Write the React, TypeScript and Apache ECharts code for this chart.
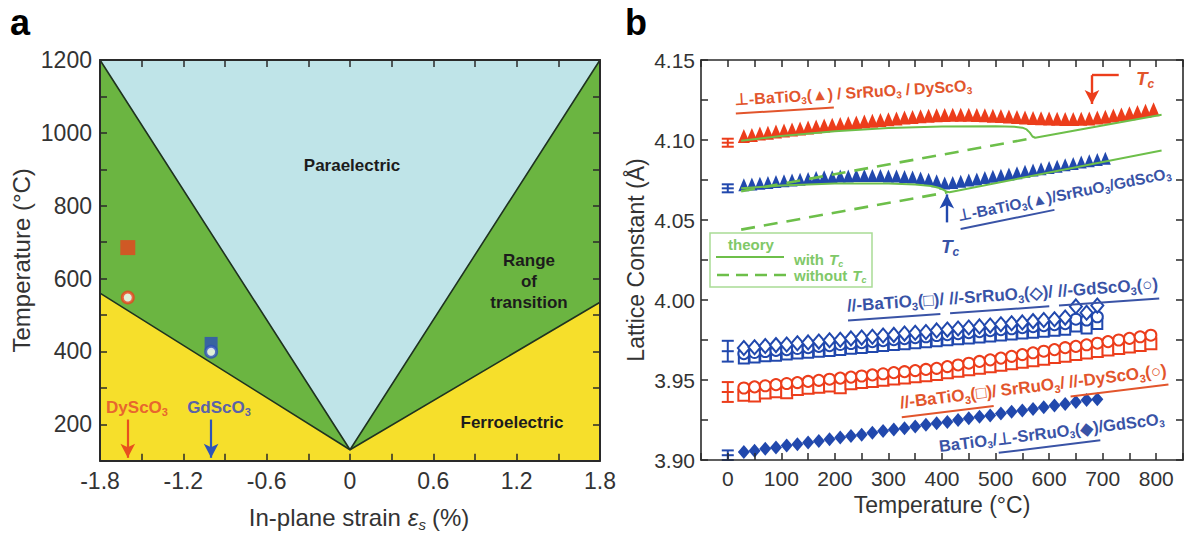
import React, { useEffect, useRef } from "react";
import * as echarts from "echarts";

const FONT = '"Liberation Sans", Arial, Helvetica, sans-serif';

// ================= Panel a : strain phase diagram =================
const strainMin = -1.8;
const strainMax = 1.8;
const tempMin = 100;
const tempMax = 1200;
const boundaryStrain = [-1.8, 0, 1.8];
const paraelectricBoundaryT = [1200, 130, 1200];
const ferroelectricBoundaryT = [560, 130, 535];
const dyStrain = -1.6;
const gdStrain = -1.0;
const dyMeasuredT = 685;
const dyTheoryT = 548;
const gdMeasuredT = 422;
const gdTheoryT = 399;
const substrateArrowTopT = 213;
const substrateArrowTipT = 108;

// ================= Panel b : lattice constant vs temperature =================
const redTriT = [30, 45, 60, 75, 90, 105, 120, 135, 150, 165, 180, 195, 210, 225, 240, 255, 270, 285, 300, 315, 330, 345, 360, 375, 390, 405, 420, 435, 450, 465, 480, 495, 510, 525, 540, 555, 570, 585, 600, 615, 630, 645, 660, 675, 690, 705, 720, 735, 750, 765, 780, 795];
const redTriV = [4.1025, 4.1032, 4.104, 4.1046, 4.1053, 4.106, 4.1066, 4.1072, 4.1078, 4.1084, 4.109, 4.1095, 4.11, 4.1105, 4.111, 4.1115, 4.112, 4.1125, 4.113, 4.1135, 4.114, 4.1144, 4.1148, 4.1152, 4.1155, 4.1157, 4.1158, 4.1158, 4.1158, 4.1157, 4.1155, 4.1152, 4.115, 4.1147, 4.1144, 4.1141, 4.1138, 4.1136, 4.1134, 4.1133, 4.1132, 4.1132, 4.1133, 4.1135, 4.114, 4.1146, 4.1153, 4.116, 4.1167, 4.1175, 4.1183, 4.1192];

const blueTriT = [30, 45, 60, 75, 90, 105, 120, 135, 150, 165, 180, 195, 210, 225, 240, 255, 270, 285, 300, 315, 330, 345, 360, 375, 390, 405, 420, 435, 450, 465, 480, 495, 510, 525, 540, 555, 570, 585, 600, 615, 630, 645, 660, 675, 690, 705];
const blueTriV = [4.072, 4.0725, 4.073, 4.0735, 4.074, 4.0745, 4.075, 4.0755, 4.076, 4.0765, 4.077, 4.077, 4.0775, 4.0775, 4.0778, 4.0778, 4.0778, 4.0778, 4.0775, 4.0775, 4.0772, 4.0768, 4.0762, 4.0755, 4.0745, 4.0732, 4.0735, 4.0742, 4.075, 4.0757, 4.0765, 4.0773, 4.078, 4.0788, 4.0796, 4.0804, 4.0812, 4.082, 4.0828, 4.0836, 4.0845, 4.0853, 4.0862, 4.087, 4.0878, 4.0886];

const redTheoryT = [25, 100, 200, 300, 400, 500, 535, 550, 558, 564, 569, 574, 810];
const redTheoryV = [4.0995, 4.1025, 4.1055, 4.1075, 4.1085, 4.1086, 4.1083, 4.1077, 4.1066, 4.1046, 4.1022, 4.1014, 4.1158];
const redNoTcT = [25, 572];
const redNoTcV = [4.068, 4.1013];
const blueTheoryT = [25, 100, 200, 300, 350, 380, 395, 403, 409, 414, 810];
const blueTheoryV = [4.0698, 4.0715, 4.0728, 4.0728, 4.0722, 4.0712, 4.07, 4.0688, 4.0676, 4.0674, 4.0935];
const blueNoTcT = [25, 410];
const blueNoTcV = [4.044, 4.0673];

const blueOpenT = [30, 50, 70, 90, 110, 130, 150, 170, 190, 210, 230, 250, 270, 290, 310, 330, 350, 370, 390, 410, 430, 450, 470, 490, 510, 530, 550, 570, 590, 610, 630, 650, 670, 690];
const blueDiamondOpenV = [3.97, 3.9705, 3.9712, 3.9718, 3.9722, 3.973, 3.9735, 3.974, 3.9748, 3.9752, 3.976, 3.9765, 3.977, 3.9778, 3.9782, 3.979, 3.9795, 3.98, 3.981, 3.9815, 3.9822, 3.9828, 3.9835, 3.984, 3.9848, 3.9855, 3.986, 3.9868, 3.9875, 3.988, 3.989, 3.996, 3.992, 3.9965];
const blueCircleOpenV = [3.9665, 3.9672, 3.9678, 3.9685, 3.969, 3.9697, 3.9702, 3.971, 3.9715, 3.9722, 3.9728, 3.9733, 3.974, 3.9746, 3.9752, 3.9758, 3.9765, 3.977, 3.9778, 3.9783, 3.979, 3.9796, 3.9802, 3.9808, 3.9815, 3.982, 3.9827, 3.9833, 3.984, 3.9846, 3.9852, 3.988, 3.9875, 3.9895];
const blueSquareOpenV = [3.9635, 3.964, 3.9648, 3.9652, 3.966, 3.9665, 3.967, 3.9676, 3.9682, 3.9688, 3.9695, 3.97, 3.9706, 3.9712, 3.9718, 3.9724, 3.973, 3.9736, 3.9742, 3.9748, 3.9754, 3.976, 3.9766, 3.9772, 3.9778, 3.9784, 3.979, 3.9796, 3.9802, 3.9808, 3.9814, 3.9835, 3.9822, 3.985];

const redOpenT = [30, 50, 70, 90, 110, 130, 150, 170, 190, 210, 230, 250, 270, 290, 310, 330, 350, 370, 390, 410, 430, 450, 470, 490, 510, 530, 550, 570, 590, 610, 630, 650, 670, 690, 710, 730, 750, 770, 790];
const redCircleOpenV = [3.945, 3.9457, 3.9464, 3.9471, 3.9478, 3.9484, 3.9491, 3.9498, 3.9505, 3.9512, 3.9518, 3.9525, 3.9532, 3.9539, 3.9546, 3.9552, 3.9559, 3.9566, 3.9573, 3.9584, 3.9594, 3.9605, 3.9616, 3.9626, 3.9637, 3.9648, 3.9659, 3.967, 3.968, 3.969, 3.9702, 3.971, 3.972, 3.973, 3.974, 3.975, 3.976, 3.977, 3.978];
const redSquareOpenV = [3.9405, 3.94, 3.9419, 3.9426, 3.942, 3.9441, 3.9448, 3.9455, 3.9462, 3.9452, 3.9477, 3.9484, 3.9491, 3.9498, 3.9506, 3.9513, 3.952, 3.9527, 3.9535, 3.9545, 3.9554, 3.9564, 3.9573, 3.9583, 3.9592, 3.9602, 3.9611, 3.962, 3.963, 3.964, 3.9649, 3.9659, 3.9668, 3.9678, 3.9688, 3.9697, 3.9707, 3.9716, 3.9726];

const blueDiamondT = [30, 50, 70, 90, 110, 130, 150, 170, 190, 210, 230, 250, 270, 290, 310, 330, 350, 370, 390, 410, 430, 450, 470, 490, 510, 530, 550, 570, 590, 610, 630, 650, 670, 690];
const blueDiamondV = [3.905, 3.9058, 3.907, 3.9078, 3.909, 3.9099, 3.911, 3.9118, 3.913, 3.9141, 3.915, 3.9158, 3.917, 3.9181, 3.919, 3.9198, 3.921, 3.9221, 3.923, 3.9238, 3.925, 3.9261, 3.927, 3.9278, 3.929, 3.9301, 3.931, 3.9318, 3.933, 3.9341, 3.935, 3.9362, 3.9375, 3.938];

const errT = [0, 0, 0, 0, 0];
const errCenter = [4.0983, 4.0698, 3.968, 3.9425, 3.903];
const errHalf = [0.0025, 0.0025, 0.0065, 0.0062, 0.003];

const tcRedT = 680;
const tcRedTopV = 4.1405;
const tcRedTipV = 4.1225;
const tcRedBracketEndT = 730;
const tcBlueT = 409;
const tcBlueTailV = 4.0485;
const tcBlueTipV = 4.066;

// ================= colours =================
const PARA = "#bfe4e8";
const RANGE = "#6bb541";
const FERRO = "#f6df2b";
const EDGE = "#1f3320";
const RED = "#ec3d1b";
const RED_TXT = "#e2552c";
const BLUE = "#2148ad";
const BLUE_TXT = "#3953a6";
const GREEN = "#6dbf4a";
const GREEN_TXT = "#80c868";
const AX = "#2a2a2a";
const errColors = [RED, BLUE, BLUE, RED, BLUE];
const TOP_Z = 100;

// ================= text helpers =================
let measureCtx: CanvasRenderingContext2D | null = null;
function textWidth(t: string, size: number, weight: string, style: string) {
  if (!measureCtx) measureCtx = document.createElement("canvas").getContext("2d");
  measureCtx!.font = `${style} ${weight} ${size}px ${FONT}`;
  return measureCtx!.measureText(t).width;
}

type Tok = { t?: string; gap?: number; sub?: boolean; it?: boolean; u?: number; w?: string };

function richLabel(
  tokens: Tok[],
  o: { x: number; y: number; rot?: number; size: number; color: string; weight?: string; center?: boolean; uOff?: number; uWidth?: number }
) {
  const weight = o.weight ?? "bold";
  let cx = 0;
  const items: any[] = [];
  const ul: Record<number, [number, number]> = {};
  for (const tk of tokens) {
    if (tk.gap !== undefined) {
      cx += tk.gap;
      continue;
    }
    const fs = tk.sub ? Math.round(o.size * 0.62) : o.size;
    const st = tk.it ? "italic" : "normal";
    const wt = tk.w ?? weight;
    const w = textWidth(tk.t!, fs, wt, st);
    items.push({
      type: "text",
      x: cx,
      y: tk.sub ? o.size * 0.3 : 0,
      z: TOP_Z,
      silent: true,
      style: {
        text: tk.t,
        fontSize: fs,
        fontWeight: wt,
        fontStyle: st,
        fontFamily: FONT,
        fill: o.color,
        align: "left",
        verticalAlign: "middle",
        textAlign: "left",
        textVerticalAlign: "middle",
      },
    });
    if (tk.u !== undefined) {
      const r = ul[tk.u];
      ul[tk.u] = r ? [r[0], cx + w] : [cx, cx + w];
    }
    cx += w;
  }
  const shift = o.center ? -cx / 2 : 0;
  items.forEach((it) => (it.x += shift));
  const uy = o.size * (o.uOff ?? 0.85);
  Object.keys(ul).forEach((k) => {
    const [a, b] = ul[Number(k)];
    items.push({
      type: "line",
      silent: true,
      z: TOP_Z,
      shape: { x1: a + shift, y1: uy, x2: b + shift, y2: uy },
      style: { stroke: o.color, lineWidth: o.uWidth ?? 2 },
    });
  });
  return { type: "group", x: o.x, y: o.y, z: TOP_Z, rotation: ((o.rot ?? 0) * Math.PI) / 180, silent: true, children: items };
}

function plainText(text: string, x: number, y: number, size: number, color: string, weight = "bold", align = "center") {
  return {
    type: "text",
    x,
    y,
    z: TOP_Z,
    silent: true,
    style: {
      text,
      fontSize: size,
      fontWeight: weight,
      fontFamily: FONT,
      fill: color,
      align,
      verticalAlign: "middle",
      textAlign: align,
      textVerticalAlign: "middle",
    },
  };
}

const zip = (xs: number[], ys: number[]) => xs.map((x, i) => [x, ys[i]]);

function polygonSeries(points: number[][], fill: string, z: number) {
  return {
    type: "custom",
    xAxisIndex: 0,
    yAxisIndex: 0,
    silent: true,
    clip: true,
    z,
    data: [[0, 500]],
    renderItem: (_p: any, api: any) => ({
      type: "polygon",
      shape: { points: points.map((p) => api.coord(p)) },
      style: { fill, stroke: "none" },
    }),
  };
}

function axis(extra: any) {
  return {
    type: "value",
    z: 10,
    axisLine: { show: true, onZero: false, lineStyle: { color: AX, width: 2 } },
    axisTick: { show: true, inside: true, length: 7, lineStyle: { color: AX, width: 1.5 } },
    splitLine: { show: false },
    ...extra,
  };
}

const tickLabelA = { fontSize: 23, color: "#333", fontFamily: FONT };
const tickLabelB = { fontSize: 21, color: "#333", fontFamily: FONT };
const nameStyle = { fontSize: 23, color: "#333", fontFamily: FONT };

function buildOption() {
  const arrowMark = (from: number[], to: number[]) => [
    { coord: from, symbol: "none" },
    { coord: to, symbol: "arrow", symbolSize: [11, 14] },
  ];
  const scatter = (xs: number[], ys: number[], symbol: string, size: any, fill: string, stroke?: string, z = 4) => ({
    type: "scatter",
    xAxisIndex: 2,
    yAxisIndex: 2,
    symbol,
    symbolSize: size,
    z,
    silent: true,
    itemStyle: stroke ? { color: fill, borderColor: stroke, borderWidth: 2, opacity: 1 } : { color: fill, opacity: 1 },
    data: zip(xs, ys),
  });
  const greenLine = (xs: number[], ys: number[], dashed: boolean) => ({
    type: "line",
    xAxisIndex: 2,
    yAxisIndex: 2,
    symbol: "none",
    silent: true,
    z: 6,
    lineStyle: { color: GREEN, width: dashed ? 2.6 : 2, type: dashed ? [14, 9] : "solid" },
    data: zip(xs, ys),
  });

  const corners = (ys: number[]) => [
    ...boundaryStrain.map((s, i) => [s, ys[i]]),
    [strainMax, tempMin],
    [strainMin, tempMin],
  ];

  return {
    animation: false,
    backgroundColor: "#ffffff",
    grid: [
      { left: 100, top: 60, width: 500, height: 400.7 },
      { left: 701, top: 60, width: 486, height: 400 },
    ],
    xAxis: [
      axis({
        gridIndex: 0,
        min: strainMin,
        max: strainMax,
        interval: 0.3,
        position: "bottom",
        axisLabel: {
          ...tickLabelA,
          margin: 9,
          formatter: (v: number) => (Math.round(v * 10) % 6 === 0 ? (Math.abs(v) < 1e-9 ? "0" : v.toFixed(1)) : ""),
        },
      }),
      axis({ gridIndex: 0, min: strainMin, max: strainMax, interval: 0.3, position: "top", axisLabel: { show: false } }),
      axis({
        gridIndex: 1,
        min: -50,
        max: 850,
        interval: 50,
        position: "bottom",
        axisLine: { show: true, onZero: false, lineStyle: { color: AX, width: 1.6 } },
        name: "Temperature (°C)",
        nameLocation: "middle",
        nameGap: 30,
        nameTextStyle: nameStyle,
        axisLabel: {
          ...tickLabelB,
          margin: 8,
          formatter: (v: number) => (Math.round(v) % 100 === 0 && v >= 0 ? String(Math.round(v)) : ""),
        },
      }),
      axis({
        gridIndex: 1,
        min: -50,
        max: 850,
        interval: 50,
        position: "top",
        axisLine: { show: true, onZero: false, lineStyle: { color: AX, width: 1.6 } },
        axisLabel: { show: false },
      }),
    ],
    yAxis: [
      axis({
        gridIndex: 0,
        min: tempMin,
        max: tempMax,
        interval: 100,
        position: "left",
        name: "Temperature (°C)",
        nameLocation: "middle",
        nameGap: 67,
        nameTextStyle: { ...nameStyle, fontSize: 24 },
        axisLabel: { ...tickLabelA, margin: 8, formatter: (v: number) => (Math.round(v) % 200 === 0 ? String(Math.round(v)) : "") },
      }),
      axis({ gridIndex: 0, min: tempMin, max: tempMax, interval: 100, position: "right", axisLabel: { show: false } }),
      axis({
        gridIndex: 1,
        min: 3.9,
        max: 4.15,
        interval: 0.025,
        position: "left",
        axisLine: { show: true, onZero: false, lineStyle: { color: AX, width: 1.6 } },
        name: "Lattice Constant (Å)",
        nameLocation: "middle",
        nameGap: 54,
        nameTextStyle: nameStyle,
        axisLabel: {
          ...tickLabelB,
          margin: 6,
          formatter: (v: number) => (Math.round(v * 1000) % 50 === 0 ? v.toFixed(2) : ""),
        },
      }),
      axis({
        gridIndex: 1,
        min: 3.9,
        max: 4.15,
        interval: 0.025,
        position: "right",
        axisLine: { show: true, onZero: false, lineStyle: { color: AX, width: 1.6 } },
        axisLabel: { show: false },
      }),
    ],
    series: [
      // ---- panel a ----
      polygonSeries(
        [
          [strainMin, tempMax],
          [strainMax, tempMax],
          [strainMax, tempMin],
          [strainMin, tempMin],
        ],
        PARA,
        1
      ),
      polygonSeries(corners(paraelectricBoundaryT), RANGE, 2),
      polygonSeries(corners(ferroelectricBoundaryT), FERRO, 3),
      {
        type: "line",
        xAxisIndex: 0,
        yAxisIndex: 0,
        symbol: "none",
        silent: true,
        z: 4,
        lineStyle: { color: EDGE, width: 1.6 },
        data: zip(boundaryStrain, paraelectricBoundaryT),
      },
      {
        type: "line",
        xAxisIndex: 0,
        yAxisIndex: 0,
        symbol: "none",
        silent: true,
        z: 4,
        lineStyle: { color: EDGE, width: 1.6 },
        data: zip(boundaryStrain, ferroelectricBoundaryT),
      },
      {
        type: "scatter",
        xAxisIndex: 0,
        yAxisIndex: 0,
        symbol: "rect",
        symbolSize: 15,
        z: 5,
        silent: true,
        itemStyle: { color: "#e8421e" },
        data: [[dyStrain, dyMeasuredT]],
      },
      {
        type: "scatter",
        xAxisIndex: 0,
        yAxisIndex: 0,
        symbol: "circle",
        symbolSize: 11,
        z: 5,
        silent: true,
        itemStyle: { color: "#ffffff", borderColor: "#e8421e", borderWidth: 3 },
        data: [[dyStrain, dyTheoryT]],
      },
      {
        type: "scatter",
        xAxisIndex: 0,
        yAxisIndex: 0,
        symbol: "rect",
        symbolSize: 13,
        z: 5,
        silent: true,
        itemStyle: { color: "#2c50b8" },
        data: [[gdStrain, gdMeasuredT]],
      },
      {
        type: "scatter",
        xAxisIndex: 0,
        yAxisIndex: 0,
        symbol: "circle",
        symbolSize: 11,
        z: 6,
        silent: true,
        itemStyle: { color: "#ffffff", borderColor: "#2c50b8", borderWidth: 3 },
        data: [[gdStrain, gdTheoryT]],
      },
      {
        type: "line",
        xAxisIndex: 0,
        yAxisIndex: 0,
        data: [],
        silent: true,
        z: 6,
        markLine: {
          silent: true,
          animation: false,
          label: { show: false },
          lineStyle: { color: "#e8501e", width: 2.2, type: "solid" },
          data: [arrowMark([dyStrain, substrateArrowTopT], [dyStrain, substrateArrowTipT])],
        },
      },
      {
        type: "line",
        xAxisIndex: 0,
        yAxisIndex: 0,
        data: [],
        silent: true,
        z: 6,
        markLine: {
          silent: true,
          animation: false,
          label: { show: false },
          lineStyle: { color: "#2e54b8", width: 2.2, type: "solid" },
          data: [arrowMark([gdStrain, substrateArrowTopT], [gdStrain, substrateArrowTipT])],
        },
      },
      // ---- panel b ----
      scatter(redTriT, redTriV, "triangle", [12, 14], RED),
      scatter(blueTriT, blueTriV, "triangle", [11, 13], BLUE),
      greenLine(redTheoryT, redTheoryV, false),
      greenLine(redNoTcT, redNoTcV, true),
      greenLine(blueTheoryT, blueTheoryV, false),
      greenLine(blueNoTcT, blueNoTcV, true),
      scatter(blueOpenT, blueSquareOpenV, "rect", 10, "#ffffff", BLUE),
      scatter(blueOpenT, blueCircleOpenV, "circle", 11, "#ffffff", BLUE),
      scatter(blueOpenT, blueDiamondOpenV, "diamond", [12, 14], "#ffffff", BLUE),
      scatter(redOpenT, redSquareOpenV, "rect", 11, "#ffffff", RED),
      scatter(redOpenT, redCircleOpenV, "circle", 11, "#ffffff", RED),
      scatter(blueDiamondT, blueDiamondV, "diamond", [12, 14], BLUE),
      {
        type: "custom",
        xAxisIndex: 2,
        yAxisIndex: 2,
        silent: true,
        z: 7,
        data: errCenter.map((c, i) => [errT[i], c, errHalf[i], i]),
        renderItem: (_p: any, api: any) => {
          const x = api.value(0);
          const c = api.value(1);
          const h = api.value(2);
          const color = errColors[api.value(3)];
          const top = api.coord([x, c + h]);
          const bot = api.coord([x, c - h]);
          const mid = api.coord([x, c]);
          const w = 6;
          const st = { stroke: color, lineWidth: 2 };
          return {
            type: "group",
            children: [
              { type: "line", shape: { x1: top[0], y1: top[1], x2: bot[0], y2: bot[1] }, style: st },
              { type: "line", shape: { x1: top[0] - w, y1: top[1], x2: top[0] + w, y2: top[1] }, style: st },
              { type: "line", shape: { x1: bot[0] - w, y1: bot[1], x2: bot[0] + w, y2: bot[1] }, style: st },
              { type: "line", shape: { x1: mid[0] - w, y1: mid[1], x2: mid[0] + w, y2: mid[1] }, style: st },
            ],
          };
        },
      },
      {
        type: "line",
        xAxisIndex: 2,
        yAxisIndex: 2,
        data: [],
        silent: true,
        z: 8,
        markLine: {
          silent: true,
          animation: false,
          label: { show: false },
          lineStyle: { color: RED, width: 2.4, type: "solid" },
          data: [
            arrowMark([tcRedT, tcRedTopV], [tcRedT, tcRedTipV]),
            [
              { coord: [tcRedT, tcRedTopV], symbol: "none" },
              { coord: [tcRedBracketEndT, tcRedTopV], symbol: "none" },
            ],
          ],
        },
      },
      {
        type: "line",
        xAxisIndex: 2,
        yAxisIndex: 2,
        data: [],
        silent: true,
        z: 8,
        markLine: {
          silent: true,
          animation: false,
          label: { show: false },
          lineStyle: { color: BLUE, width: 2.4, type: "solid" },
          data: [arrowMark([tcBlueT, tcBlueTailV], [tcBlueT, tcBlueTipV])],
        },
      },
    ],
    graphic: [
      plainText("a", 20, 22, 36, "#000"),
      plainText("b", 636, 22, 36, "#000"),
      // panel a labels
      plainText("Paraelectric", 352, 165, 17, "#1c1c1c"),
      plainText("Range", 529, 260, 17, "#1c1c1c"),
      plainText("of", 529, 281, 17, "#1c1c1c"),
      plainText("transition", 529, 302, 17, "#1c1c1c"),
      plainText("Ferroelectric", 512, 422, 17, "#1c1c1c"),
      richLabel([{ t: "DyScO" }, { t: "3", sub: true }], { x: 137, y: 407, size: 17, color: "#e8662e", center: true }),
      richLabel([{ t: "GdScO" }, { t: "3", sub: true }], { x: 219, y: 407, size: 17, color: "#5a62a8", center: true }),
      richLabel(
        [{ t: "In-plane strain", w: "normal" }, { gap: 7 }, { t: "ε", it: true, w: "normal" }, { t: "s", it: true, sub: true }, { gap: 6 }, { t: "(%)", w: "normal" }],
        { x: 359, y: 517, size: 24, color: "#333", weight: "normal", center: true }
      ),
      // panel b annotations
      richLabel(
        [
          { t: "⊥-BaTiO", u: 0 },
          { t: "3", sub: true, u: 0 },
          { t: "(▲)", u: 0 },
          { gap: 4 },
          { t: "/" },
          { gap: 4 },
          { t: "SrRuO" },
          { t: "3", sub: true },
          { gap: 4 },
          { t: "/" },
          { gap: 4 },
          { t: "DyScO" },
          { t: "3", sub: true },
        ],
        { x: 735, y: 100, rot: 3.5, size: 16, color: RED_TXT }
      ),
      richLabel([{ t: "T", it: true }, { t: "c", it: true, sub: true }], { x: 1136, y: 78, size: 19, color: RED_TXT }),
      richLabel([{ t: "T", it: true }, { t: "c", it: true, sub: true }], { x: 941, y: 246, size: 19, color: BLUE_TXT }),
      richLabel(
        [
          { t: "⊥-BaTiO", u: 0 },
          { t: "3", sub: true, u: 0 },
          { t: "(▲)", u: 0 },
          { t: "/SrRuO" },
          { t: "3", sub: true },
          { t: "/GdScO" },
          { t: "3", sub: true },
        ],
        { x: 958, y: 216, rot: 11.5, size: 15.5, color: BLUE_TXT }
      ),
      richLabel(
        [
          { t: "//-BaTiO", u: 0 },
          { t: "3", sub: true, u: 0 },
          { t: "(□)", u: 0 },
          { t: "/" },
          { gap: 5 },
          { t: "//-SrRuO", u: 1 },
          { t: "3", sub: true, u: 1 },
          { t: "(◇)", u: 1 },
          { t: "/" },
          { gap: 5 },
          { t: "//-GdScO", u: 2 },
          { t: "3", sub: true, u: 2 },
          { t: "(○)", u: 2 },
        ],
        { x: 847, y: 306, rot: 4, size: 17, color: BLUE_TXT }
      ),
      richLabel(
        [
          { t: "//-BaTiO", u: 0 },
          { t: "3", sub: true, u: 0 },
          { t: "(□)", u: 0 },
          { t: "/" },
          { gap: 4 },
          { t: "SrRuO" },
          { t: "3", sub: true },
          { t: "/" },
          { gap: 4 },
          { t: "//-DyScO", u: 1 },
          { t: "3", sub: true, u: 1 },
          { t: "(○)", u: 1 },
        ],
        { x: 900, y: 403, rot: 7, size: 17, color: RED_TXT }
      ),
      richLabel(
        [
          { t: "BaTiO" },
          { t: "3", sub: true },
          { t: "/" },
          { t: "⊥-SrRuO", u: 0 },
          { t: "3", sub: true, u: 0 },
          { t: "(◆)", u: 0 },
          { t: "/GdScO" },
          { t: "3", sub: true },
        ],
        { x: 939, y: 446, rot: 7, size: 16.5, color: BLUE_TXT }
      ),
      // theory legend box
      {
        type: "rect",
        silent: true,
        z: TOP_Z,
        shape: { x: 710, y: 233, width: 162, height: 54 },
        style: { fill: "rgba(255,255,255,0)", stroke: "#a9dc95", lineWidth: 1.5 },
      },
      plainText("theory", 751, 244, 15, GREEN_TXT),
      { type: "line", silent: true, z: TOP_Z, shape: { x1: 716, y1: 257, x2: 784, y2: 257 }, style: { stroke: GREEN, lineWidth: 2 } },
      richLabel([{ t: "with" }, { gap: 5 }, { t: "T", it: true }, { t: "c", it: true, sub: true }], { x: 794, y: 259, size: 15, color: GREEN_TXT }),
      {
        type: "line",
        silent: true,
        z: TOP_Z,
        shape: { x1: 717, y1: 275, x2: 786, y2: 275 },
        style: { stroke: GREEN, lineWidth: 2.4, lineDash: [12, 7] },
      },
      richLabel([{ t: "without" }, { gap: 5 }, { t: "T", it: true }, { t: "c", it: true, sub: true }], { x: 794, y: 275, size: 15, color: GREEN_TXT }),
    ],
  };
}

export default function App() {
  const ref = useRef<HTMLDivElement>(null);
  useEffect(() => {
    if (!ref.current) return;
    const chart = echarts.init(ref.current, undefined, { renderer: "svg" });
    chart.setOption(buildOption() as any);
    return () => chart.dispose();
  }, []);
  return (
    <div
      ref={ref}
      style={{ position: "absolute", left: 0, top: 0, width: 1186, height: 533, background: "#fff" }}
    />
  );
}
